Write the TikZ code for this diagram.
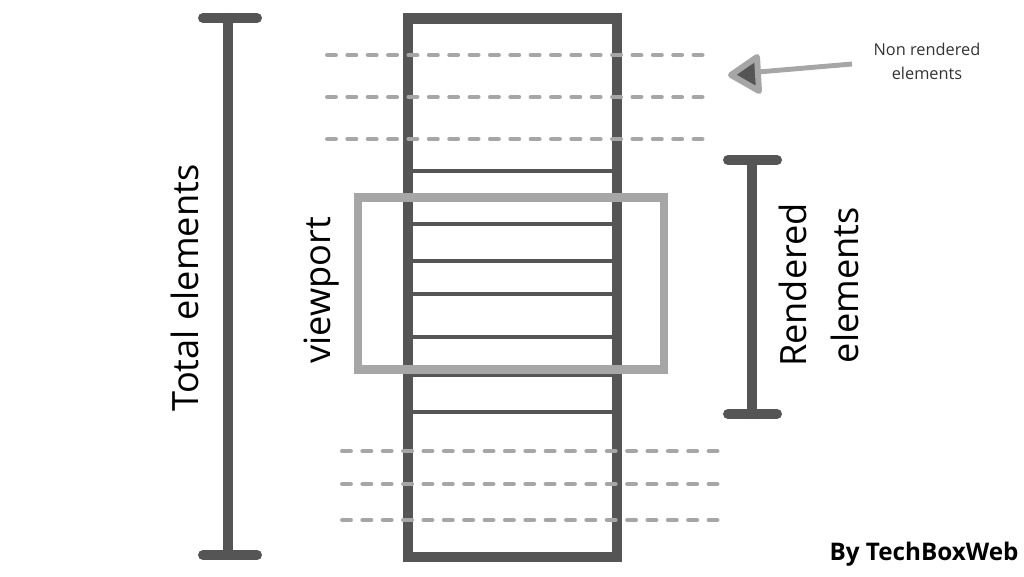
\documentclass[tikz,border=0pt]{standalone}
\usepackage{fontspec}
\setmainfont{Open Sans}
\definecolor{bardark}{HTML}{555555}
\definecolor{barlight}{HTML}{A6A6A6}
\tikzset{
  bar/.style={draw=bardark, line width=5.7pt, line cap=round},
  row/.style={draw=bardark, line width=2.3pt},
  hidden/.style={draw=barlight, line width=2.55pt, line cap=round, dash pattern=on 4.82pt off 6.77pt},
  biglabel/.style={rotate=90, align=center, font=\fontsize{20.6}{29.5}\selectfont}
}
\begin{document}
\begin{tikzpicture}[x=0.02cm, y=-0.02cm]
\useasboundingbox (0,0) rectangle (1024,576) ;
\draw [bar] (228,18) -- (228,555) ;
\draw [bar] (203,18) -- (257,18) ;
\draw [bar] (203,555) -- (257,555) ;
\node [biglabel] (total) at (185,288) {Total elements} ;
\draw [draw=bardark, line width=5.7pt] (408,18.5) rectangle (616.5,557) ;
\foreach \y in {171,224,261,294,337,375,412}
  \draw [row] (413,\y) -- (612,\y) ;
\foreach \y in {55,97,139}
  \draw [hidden] (327.25,\y) -- (703.75,\y) ;
\foreach \y in {451,484,520}
  \draw [hidden] (342.25,\y) -- (718.75,\y) ;
\draw [draw=barlight, line width=5.1pt] (358,197.5) rectangle (664,369.5) ;
\node [biglabel] (viewport) at (322,290) {viewport} ;
\draw [bar] (752,160) -- (752,414) ;
\draw [bar] (728,160) -- (777,160) ;
\draw [bar] (728,414) -- (777,414) ;
\node [biglabel] (rendered) at (819,285) {Rendered\\elements} ;
\node [align=center, text=black!80, font=\fontsize{9.3}{13.6}\selectfont] (nonrendered) at (927,61) {Non rendered\\elements} ;
\coordinate (tail) at (852,64) ;
\coordinate (tip) at (731,75) ;
\draw [draw=barlight, line width=2.8pt] (tail) -- (758,72) ;
\draw [draw=barlight, fill=bardark, line width=3.4pt, line join=round] (tip) -- (757,57) -- (759,91) -- cycle ;
\node [font=\fontsize{13.8}{16}\selectfont\bfseries] (credit) at (924,554) {By TechBoxWeb} ;
\end{tikzpicture}
\end{document}
